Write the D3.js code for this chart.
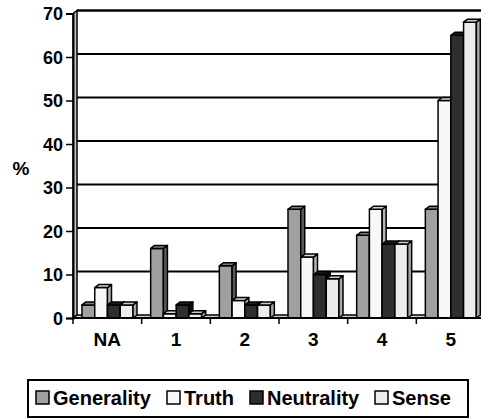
<!DOCTYPE html>
<html>
<head>
<meta charset="utf-8">
<script src="https://cdn.jsdelivr.net/npm/d3@7"></script>
<style>
  body { margin: 0; background: #fff; }
  text { font-family: "Liberation Sans", Arial, sans-serif; font-weight: bold; fill: #000; }
</style>
</head>
<body>
<div id="chart"></div>
<script>
// data (percent)
const categories = ['NA', '1', '2', '3', '4', '5'];
const seriesNames = ['Generality', 'Truth', 'Neutrality', 'Sense'];
const generality = [3, 16, 12, 25, 19, 25];
const truth = [7, 1, 4, 14, 25, 50];
const neutrality = [3, 3, 3, 10, 17, 65];
const sense = [3, 1, 3, 9, 17, 68];
const yTicks = [0, 10, 20, 30, 40, 50, 60, 70];

const seriesValues = [generality, truth, neutrality, sense];
const frontFill = ['#a0a0a0', '#f8f8f8', '#2e2e2e', '#ececec'];
const sideFill = ['#5a5a5a', '#b4b4b4', '#0e0e0e', '#a8a8a8'];
const topFill = ['#7c7c7c', '#d8d8d8', '#1c1c1c', '#cccccc'];

const W = 481, H = 419;
const dx = 4, dy = 3; // 3d depth offset

const svg = d3.select('#chart').append('svg')
    .attr('width', W)
    .attr('height', H);

const x = d3.scaleBand()
    .domain(categories)
    .range([73, 485]);

const xs = d3.scaleBand()
    .domain(seriesNames)
    .range([9, 60]);

const y = d3.scaleLinear()
    .domain([0, 70])
    .range([318, 13.5]);

const poly = pts => pts.map(p => p.join(',')).join(' ');

// left wall
svg.append('polygon')
    .attr('points', poly([[73, y(0)], [73, y(70)], [73 + dx, y(70) - dy], [73 + dx, y(0) - dy]]))
    .attr('fill', '#c8c8c8')
    .attr('stroke', '#000')
    .attr('stroke-width', 1.5);

// back wall gridlines
svg.selectAll('.grid')
    .data(yTicks.filter(d => d > 0))
    .enter()
    .append('line')
    .attr('x1', 73 + dx)
    .attr('x2', W)
    .attr('y1', d => y(d) - dy)
    .attr('y2', d => y(d) - dy)
    .attr('stroke', '#000')
    .attr('stroke-width', d => d === 70 ? 2.5 : 2);

// floor
svg.append('polygon')
    .attr('points', poly([[73, y(0)], [485, y(0)], [485 + dx, y(0) - dy], [73 + dx, y(0) - dy]]))
    .attr('fill', '#d0d0d0')
    .attr('stroke', '#000')
    .attr('stroke-width', 1.5);

// bars
const bars = [];
categories.forEach((c, i) => {
    seriesNames.forEach((s, j) => {
        bars.push({ cat: c, s: j, v: seriesValues[j][i] });
    });
});

const g = svg.selectAll('.bar')
    .data(bars)
    .enter()
    .append('g');

g.each(function(d) {
    const el = d3.select(this);
    const x0 = x(d.cat) + xs(seriesNames[d.s]);
    const x1 = x0 + xs.bandwidth();
    const y0 = y(0);
    const y1 = y(d.v);
    el.append('polygon')
        .attr('points', poly([[x0, y0], [x1, y0], [x1, y1], [x0, y1]]))
        .attr('fill', frontFill[d.s]);
    el.append('polygon')
        .attr('points', poly([[x1, y0], [x1 + dx, y0 - dy], [x1 + dx, y1 - dy], [x1, y1]]))
        .attr('fill', sideFill[d.s]);
    el.append('polygon')
        .attr('points', poly([[x0, y1], [x1, y1], [x1 + dx, y1 - dy], [x0 + dx, y1 - dy]]))
        .attr('fill', topFill[d.s]);
    el.selectAll('polygon')
        .attr('stroke', '#000')
        .attr('stroke-width', 1.5)
        .attr('stroke-linejoin', 'round');
});

// y axis
const yAxis = svg.append('g')
    .attr('transform', 'translate(73,0)')
    .call(d3.axisLeft(y).tickValues(yTicks).tickSize(7).tickPadding(3));
yAxis.select('.domain').attr('stroke', '#000').attr('stroke-width', 2);
yAxis.selectAll('.tick line').attr('stroke', '#000').attr('stroke-width', 1.5);
yAxis.selectAll('.tick text')
    .style('font-size', '18px')
    .style('font-family', '"Liberation Sans", Arial, sans-serif')
    .style('font-weight', 'bold')
    .attr('dy', '0.36em');

// x axis
const xAxis = svg.append('g')
    .attr('transform', `translate(0,${y(0)})`)
    .call(d3.axisBottom(x).tickSize(0).tickPadding(15));
xAxis.select('.domain').remove();
xAxis.selectAll('.tick text')
    .style('font-size', '19px')
    .style('font-family', '"Liberation Sans", Arial, sans-serif')
    .style('font-weight', 'bold');

svg.selectAll('.xtick')
    .data(categories)
    .enter()
    .append('line')
    .attr('x1', d => x(d))
    .attr('x2', d => x(d))
    .attr('y1', y(0))
    .attr('y2', y(0) + 6)
    .attr('stroke', '#000')
    .attr('stroke-width', 1.5);

svg.append('line')
    .attr('x1', 73).attr('x2', 485)
    .attr('y1', y(0)).attr('y2', y(0))
    .attr('stroke', '#000')
    .attr('stroke-width', 2);

// y title
svg.append('text')
    .attr('x', 21)
    .attr('y', 168)
    .attr('dy', '0.36em')
    .attr('text-anchor', 'middle')
    .style('font-size', '19px')
    .text('%');

// legend
const legendX = [36, 167, 250, 375];
svg.append('rect')
    .attr('x', 28).attr('y', 380)
    .attr('width', 440).attr('height', 37)
    .attr('fill', '#fff')
    .attr('stroke', '#000')
    .attr('stroke-width', 2);

const leg = svg.selectAll('.legend')
    .data(seriesNames)
    .enter()
    .append('g')
    .attr('transform', (d, i) => `translate(${legendX[i]},391)`);

leg.append('rect')
    .attr('width', 13).attr('height', 13)
    .attr('fill', (d, i) => frontFill[i])
    .attr('stroke', '#000')
    .attr('stroke-width', 1.5);

leg.append('text')
    .attr('x', 17)
    .attr('y', 13.5)
    .style('font-size', '20px')
    .text(d => d);
</script>
</body>
</html>
